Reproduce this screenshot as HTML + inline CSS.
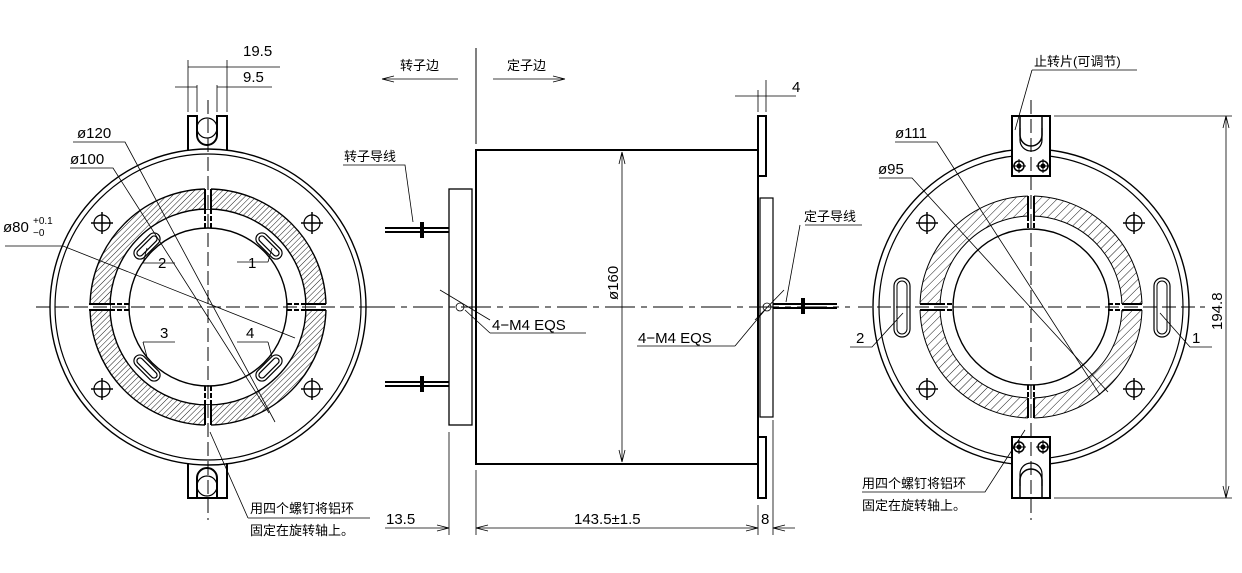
<!DOCTYPE html>
<html><head><meta charset="utf-8"><style>
html,body{margin:0;padding:0;background:#fff}
svg{display:block}
text{font-family:"Liberation Sans","Noto Sans CJK SC",sans-serif;fill:#000}
.t{font-size:15px}
.c{font-size:13px}
</style></head><body>
<svg width="1242" height="573" viewBox="0 0 1242 573" xmlns="http://www.w3.org/2000/svg">
<defs>
<pattern id="h" width="4" height="4" patternUnits="userSpaceOnUse" patternTransform="rotate(45)">
<line x1="0" y1="0" x2="0" y2="4" stroke="#000" stroke-width="0.9"/>
</pattern>
<pattern id="h2" width="6" height="6" patternUnits="userSpaceOnUse" patternTransform="rotate(45)">
<line x1="0" y1="0" x2="0" y2="6" stroke="#000" stroke-width="0.9"/>
</pattern>
<g id="hole"><circle r="8" fill="none" stroke="#000" stroke-width="1.2"/><line x1="-11" y1="0" x2="11" y2="0" stroke="#000" stroke-width="1.5"/><line x1="0" y1="-11" x2="0" y2="11" stroke="#000" stroke-width="1.5"/></g>
<g id="sh"><circle r="5" fill="none" stroke="#000" stroke-width="1.5"/><circle r="2" fill="#000"/><line x1="-7" y1="0" x2="7" y2="0" stroke="#000"/><line x1="0" y1="-7" x2="0" y2="7" stroke="#000"/></g>
</defs>
<g fill="none" stroke="#000" stroke-width="1">

<!-- LEFT VIEW -->
<circle cx="208" cy="307" r="158" stroke-width="1.4"/>
<circle cx="208" cy="307" r="153" stroke-width="1.2"/>
<path d="M208,189 a118,118 0 1,0 0.01,0 Z M208,209 a98,98 0 1,1 -0.01,0 Z" fill="url(#h)" fill-rule="evenodd" stroke="none"/>
<circle cx="208" cy="307" r="118" stroke-width="1.4"/>
<circle cx="208" cy="307" r="98" stroke-width="1.4"/>
<circle cx="208" cy="307" r="79" stroke-width="1.4"/>
<rect x="205" y="188" width="6" height="21" fill="#fff" stroke="none"/>
<rect x="205" y="405" width="6" height="21" fill="#fff" stroke="none"/>
<rect x="89" y="304" width="21" height="6" fill="#fff" stroke="none"/>
<rect x="306" y="304" width="21" height="6" fill="#fff" stroke="none"/>
<path d="M205,189V209M211,189V209M205,405V425M211,405V425M89,304H110M89,310H110M306,304H326M306,310H326" stroke-width="2"/>
<path d="M205,209V228M211,209V228M205,386V405M211,386V405M110,304H129M110,310H129M287,304H306M287,310H306" stroke-width="2" stroke-dasharray="5,2"/>
<!-- tabs -->
<path d="M188,150V116H197V135A10,10 0 0 0 217,135V116H227V150" stroke-width="2"/>
<circle cx="207" cy="128" r="10" stroke-width="1.2"/>
<path d="M188,463V498H227V463M197,498V478A10,10 0 0 1 217,478V498" stroke-width="2"/>
<circle cx="207" cy="486" r="10" stroke-width="1.2"/>
<use href="#hole" x="102" y="223"/><use href="#hole" x="312" y="223"/>
<use href="#hole" x="102" y="389"/><use href="#hole" x="312" y="389"/>
<g stroke-width="1.2">
<rect x="-16" y="-6" width="32" height="12" rx="6" transform="translate(147,246) rotate(-45)"/>
<rect x="-13" y="-3" width="26" height="6" rx="3" transform="translate(147,246) rotate(-45)"/>
<rect x="-16" y="-6" width="32" height="12" rx="6" transform="translate(269,246) rotate(45)"/>
<rect x="-13" y="-3" width="26" height="6" rx="3" transform="translate(269,246) rotate(45)"/>
<rect x="-16" y="-6" width="32" height="12" rx="6" transform="translate(147,368) rotate(45)"/>
<rect x="-13" y="-3" width="26" height="6" rx="3" transform="translate(147,368) rotate(45)"/>
<rect x="-16" y="-6" width="32" height="12" rx="6" transform="translate(269,368) rotate(-45)"/>
<rect x="-13" y="-3" width="26" height="6" rx="3" transform="translate(269,368) rotate(-45)"/>
</g>
<path d="M36,307H380M208,100V520" stroke-dasharray="14,5" stroke-width="1"/>
<g stroke-width="0.8">
<path d="M73,142H125L275,422"/>
<path d="M70,168H113L269,413"/>
<path d="M5,246H63L295,338"/>
<path d="M143,263L147,248M143,263H175"/><text x="158" y="268" class="t" stroke="none">2</text>
<path d="M268,262L272,248M268,262H237"/><text x="248" y="268" class="t" stroke="none">1</text>
<path d="M143,342L147,357M143,342H175"/><text x="160" y="338" class="t" stroke="none">3</text>
<path d="M268,342L272,357M268,342H237"/><text x="246" y="338" class="t" stroke="none">4</text>
<path d="M248,518L210,432M248,518H370"/>
<path d="M188,60V112M227,60V112M197,85V112M217,85V112M188,67H280M175,87H197M217,87H272"/>
</g>
<text x="243" y="56" class="t" stroke="none">19.5</text>
<text x="243" y="82" class="t" stroke="none">9.5</text>
<text x="77" y="138" class="t" stroke="none">ø120</text>
<text x="70" y="164" class="t" stroke="none">ø100</text>
<text x="3" y="232" class="t" stroke="none">ø80</text>
<text x="33" y="224" style="font-size:10px" stroke="none">+0.1</text>
<text x="33" y="236" style="font-size:10px" stroke="none">−0</text>
<text x="250" y="513" class="c" stroke="none">用四个螺钉将铝环</text>
<text x="250" y="535" class="c" stroke="none">固定在旋转轴上。</text>

<!-- MIDDLE VIEW -->
<path d="M476,48V144" stroke-width="1"/>
<path d="M382,79H458M382,79l12,-3M382,79l12,3M493,79H565M565,79l-12,-3M565,79l-12,3" stroke-width="0.8"/>
<text x="400" y="70" class="c" stroke="none">转子边</text>
<text x="507" y="70" class="c" stroke="none">定子边</text>
<rect x="476" y="150" width="282" height="314" stroke-width="2"/>
<rect x="449" y="189" width="23" height="236" stroke-width="1.3"/>
<path d="M472,208V408" stroke-width="1"/>
<rect x="758" y="116" width="8" height="60" stroke-width="2"/>
<rect x="758" y="437" width="8" height="61" stroke-width="2"/>
<rect x="760" y="198" width="13" height="219" stroke-width="1.2"/>
<path d="M758,176V437" stroke-width="2"/>
<path d="M385,228H449M385,232H449M385,382H449M385,386H449M773,304H837M773,308H837" stroke-width="2"/>
<rect x="420" y="222" width="4" height="16" fill="#000" stroke="none"/>
<rect x="420" y="376" width="4" height="16" fill="#000" stroke="none"/>
<rect x="801" y="298" width="4" height="16" fill="#000" stroke="none"/>
<path d="M365,307H850" stroke-dasharray="30,6,6,6" stroke-width="1"/>
<path d="M622,152V462M622,152l-3,12M622,152l3,12M622,462l-3,-12M622,462l3,-12" stroke-width="0.8"/>
<text transform="translate(618,300) rotate(-90)" class="t" stroke="none">ø160</text>
<g stroke-width="0.8">
<circle cx="460" cy="307" r="4"/>
<path d="M440,290L490,320M490,333H586"/>
<path d="M490,333L465,310"/>
<circle cx="767" cy="307" r="4"/>
<path d="M784,290L755,320M735,346H637M735,346L765,310"/>
<path d="M343,165H405L413,222"/>
<path d="M805,225H862M800,225L786,302"/>
<path d="M745,96H796M735,96H758M766,80V112M758,90V112"/>
<path d="M449,432V535M476,470V535M758,505V535M773,420V535"/>
<path d="M385,528H449M476,528H758M773,528H795M476,528l12,-3M476,528l12,3M758,528l-12,-3M758,528l-12,3M449,528l-12,-3M449,528l-12,3M773,528l12,-3M773,528l12,3"/>
</g>
<text x="792" y="92" class="t" stroke="none">4</text>
<text x="492" y="330" class="t" stroke="none">4−M4  EQS</text>
<text x="638" y="343" class="t" stroke="none">4−M4  EQS</text>
<text x="344" y="161" class="c" stroke="none">转子导线</text>
<text x="804" y="221" class="c" stroke="none">定子导线</text>
<text x="386" y="524" class="t" stroke="none">13.5</text>
<text x="574" y="524" class="t" stroke="none">143.5±1.5</text>
<text x="761" y="524" class="t" stroke="none">8</text>

<!-- RIGHT VIEW -->
<circle cx="1031" cy="307" r="158" stroke-width="1.4"/>
<circle cx="1031" cy="307" r="152" stroke-width="1.2"/>
<path d="M1031,196 a111,111 0 1,0 0.01,0 Z M1031,216 a91,91 0 1,1 -0.01,0 Z" fill="url(#h2)" fill-rule="evenodd" stroke="none"/>
<circle cx="1031" cy="307" r="111" stroke-width="1"/>
<circle cx="1031" cy="307" r="91" stroke-width="1"/>
<circle cx="1031" cy="307" r="78" stroke-width="1.4"/>
<rect x="1028" y="195" width="6" height="22" fill="#fff" stroke="none"/>
<rect x="1028" y="397" width="6" height="22" fill="#fff" stroke="none"/>
<rect x="919" y="304" width="22" height="6" fill="#fff" stroke="none"/>
<rect x="1121" y="304" width="22" height="6" fill="#fff" stroke="none"/>
<path d="M1028,196V216M1034,196V216M1028,398V418M1034,398V418M920,304H940M920,310H940M1122,304H1142M1122,310H1142" stroke-width="2"/>
<path d="M1028,216V230M1034,216V230M1028,385V398M1034,385V398M940,304H954M940,310H954M1108,304H1122M1108,310H1122" stroke-width="2" stroke-dasharray="5,2"/>
<rect x="1012" y="116" width="38" height="60" fill="#fff" stroke-width="2"/>
<path d="M1020,116V135A11,11 0 0 0 1042,135V116" stroke-width="1.5"/>
<path d="M1020,128V140A11,11 0 0 0 1042,140V128" stroke-width="1.2"/>
<rect x="1012" y="437" width="38" height="61" fill="#fff" stroke-width="2"/>
<path d="M1020,498V480A11,11 0 0 1 1042,480V498" stroke-width="1.5"/>
<path d="M1020,486V474A11,11 0 0 1 1042,474V486" stroke-width="1.2"/>
<use href="#sh" x="1019" y="166"/><use href="#sh" x="1043" y="166"/>
<use href="#sh" x="1019" y="447"/><use href="#sh" x="1043" y="447"/>
<use href="#hole" x="927" y="223"/><use href="#hole" x="1134" y="223"/>
<use href="#hole" x="927" y="389"/><use href="#hole" x="1134" y="389"/>
<rect x="894" y="278" width="16" height="59" rx="8" stroke-width="1.2"/>
<rect x="897" y="281" width="10" height="53" rx="5" stroke-width="1"/>
<rect x="1154" y="278" width="16" height="59" rx="8" stroke-width="1.2"/>
<rect x="1157" y="281" width="10" height="53" rx="5" stroke-width="1"/>
<path d="M858,307H1205M1031,100V520" stroke-dasharray="14,5" stroke-width="1"/>
<g stroke-width="0.8">
<path d="M895,142H937L1100,395"/>
<path d="M879,178H912L1108,392"/>
<path d="M850,347H872L903,313"/>
<path d="M1212,347H1190L1160,313"/>
<path d="M1032,70H1137M1032,70L1015,130"/>
<path d="M862,492H985L1025,430"/>
<path d="M1054,116H1232M1054,498H1232M1226,116V498M1226,116l-3,12M1226,116l3,12M1226,498l-3,-12M1226,498l3,-12"/>
</g>
<text x="895" y="138" class="t" stroke="none">ø111</text>
<text x="878" y="174" class="t" stroke="none">ø95</text>
<text x="856" y="343" class="t" stroke="none">2</text>
<text x="1192" y="343" class="t" stroke="none">1</text>
<text transform="translate(1222,330) rotate(-90)" class="t" stroke="none">194.8</text>
<text x="1034" y="66" class="c" stroke="none">止转片(可调节)</text>
<text x="862" y="488" class="c" stroke="none">用四个螺钉将铝环</text>
<text x="862" y="510" class="c" stroke="none">固定在旋转轴上。</text>
</g>
</svg>
</body></html>
